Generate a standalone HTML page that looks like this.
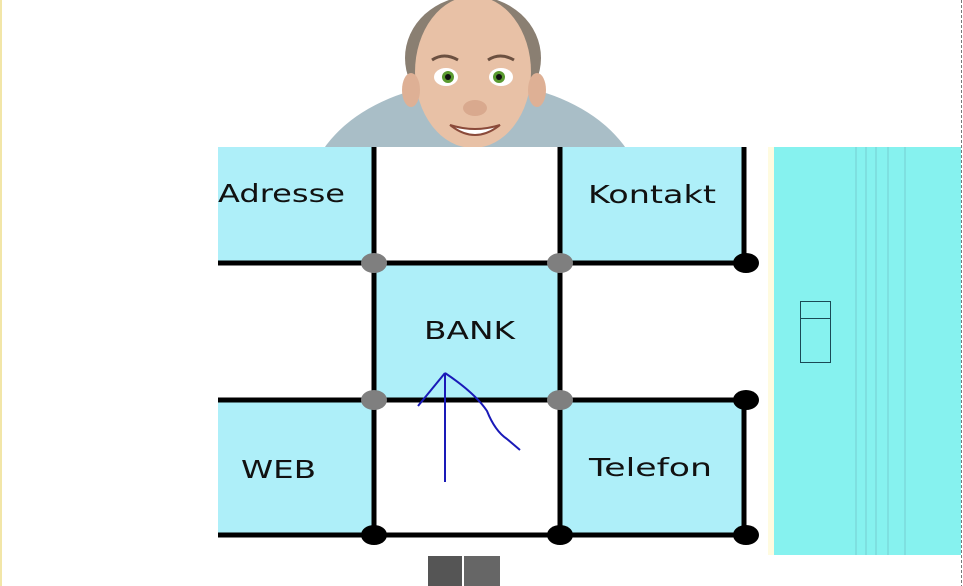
<!DOCTYPE html>
<html><head><meta charset="utf-8"><style>
html,body{margin:0;padding:0;background:#fff;width:963px;height:586px;overflow:hidden}
</style></head><body>
<svg width="963" height="586" viewBox="0 0 963 586" xmlns="http://www.w3.org/2000/svg" font-family="'DejaVu Sans','Liberation Sans',sans-serif">
<rect width="963" height="586" fill="#fff"/>
<line x1="1" y1="0" x2="1" y2="586" stroke="#f2e6a8" stroke-width="2"/>
<ellipse cx="475" cy="200" rx="168" ry="118" fill="#a9bec7"/>
<ellipse cx="473" cy="58" rx="68" ry="62" fill="#8a7f72"/>
<ellipse cx="473" cy="72" rx="58" ry="76" fill="#e8c1a6"/>
<ellipse cx="411" cy="90" rx="9" ry="17" fill="#deb095"/>
<ellipse cx="537" cy="90" rx="9" ry="17" fill="#deb095"/>
<ellipse cx="446" cy="77" rx="12" ry="9" fill="#fff"/><circle cx="448" cy="77" r="6" fill="#5a9a30"/><circle cx="448" cy="77" r="3" fill="#111"/>
<ellipse cx="501" cy="77" rx="12" ry="9" fill="#fff"/><circle cx="499" cy="77" r="6" fill="#5a9a30"/><circle cx="499" cy="77" r="3" fill="#111"/>
<path d="M432 60 q12-8 26 0 M488 60 q12-8 26 0" stroke="#6b5040" stroke-width="3" fill="none"/>
<ellipse cx="475" cy="108" rx="12" ry="8" fill="#d9a98e"/>
<path d="M450 125 q25 20 50 0 q-25 8 -50 0z" fill="#fff" stroke="#8a4a3a" stroke-width="2"/>
<rect x="218" y="147" width="542" height="401" fill="#fff"/>
<g fill="#aeeff9">
<rect x="218" y="147" width="156" height="116"/>
<rect x="560" y="147" width="184" height="116"/>
<rect x="374" y="263" width="186" height="137"/>
<rect x="218" y="400" width="156" height="135"/>
<rect x="560" y="400" width="184" height="135"/>
</g>
<g stroke="#000" stroke-width="5">
<line x1="374" y1="147" x2="374" y2="535"/>
<line x1="560" y1="147" x2="560" y2="535"/>
<line x1="744" y1="147" x2="744" y2="263"/>
<line x1="744" y1="400" x2="744" y2="535"/>
<line x1="218" y1="263" x2="746" y2="263"/>
<line x1="218" y1="400" x2="746" y2="400"/>
<line x1="218" y1="535" x2="746" y2="535"/>
</g>
<g fill="#7f7f7f"><ellipse cx="374" cy="263" rx="13" ry="10"/><ellipse cx="560" cy="263" rx="13" ry="10"/><ellipse cx="374" cy="400" rx="13" ry="10"/><ellipse cx="560" cy="400" rx="13" ry="10"/></g>
<g fill="#000"><ellipse cx="746" cy="263" rx="13" ry="10"/><ellipse cx="746" cy="400" rx="13" ry="10"/><ellipse cx="374" cy="535" rx="13" ry="10"/><ellipse cx="560" cy="535" rx="13" ry="10"/><ellipse cx="746" cy="535" rx="13" ry="10"/></g>
<g font-size="25" fill="#111">
<text x="218" y="202" textLength="127" lengthAdjust="spacingAndGlyphs">Adresse</text>
<text x="588" y="203" textLength="128" lengthAdjust="spacingAndGlyphs">Kontakt</text>
<text x="424" y="339" textLength="91" lengthAdjust="spacingAndGlyphs">BANK</text>
<text x="241" y="478" textLength="75" lengthAdjust="spacingAndGlyphs">WEB</text>
<text x="589" y="476" textLength="123" lengthAdjust="spacingAndGlyphs">Telefon</text>
</g>
<g stroke="#1a1ab8" stroke-width="2" fill="none">
<line x1="445" y1="373" x2="445" y2="482"/>
<path d="M445 373 L418 406"/>
<path d="M445 373 q30 20 42 38 q8 20 20 28 l13 11"/>
</g>
<rect x="428" y="556" width="34" height="30" fill="#555"/>
<rect x="464" y="556" width="36" height="30" fill="#666"/>
<rect x="768" y="147" width="6" height="408" fill="#fffbe0"/>
<rect x="774" y="147" width="187" height="408" fill="#86f2ef"/>
<g stroke="#7ee0e0" stroke-width="2"><line x1="856" y1="147" x2="856" y2="555"/><line x1="866" y1="147" x2="866" y2="555"/><line x1="876" y1="147" x2="876" y2="555"/><line x1="888" y1="147" x2="888" y2="555"/><line x1="905" y1="147" x2="905" y2="555"/></g>
<rect x="800.5" y="301.5" width="30" height="61" fill="none" stroke="#1a4a55" stroke-width="1"/>
<line x1="800" y1="318.5" x2="831" y2="318.5" stroke="#1a4a55" stroke-width="1"/>
<line x1="961.5" y1="0" x2="961.5" y2="586" stroke="#777" stroke-width="1" stroke-dasharray="3,2"/>
</svg>
</body></html>
